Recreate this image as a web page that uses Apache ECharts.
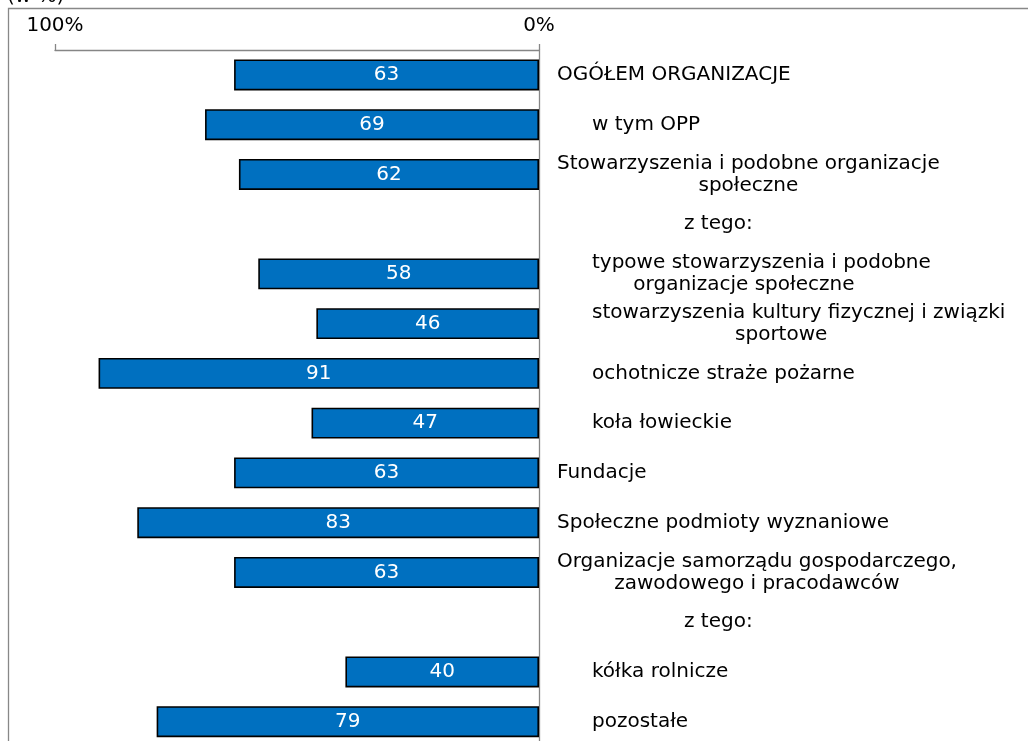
<!DOCTYPE html>
<html lang="pl">
<head>
<meta charset="utf-8">
<title>Organizacje – udział (w %)</title>
<script src="https://cdn.jsdelivr.net/npm/echarts@6/dist/echarts.min.js"></script>
<style>
  html, body { margin: 0; padding: 0; background: #ffffff; overflow: hidden; }
  #chart { width: 1028px; height: 741px; }
</style>
</head>
<body>
<div id="chart"></div>
<script>
// Category rows, top to bottom ("z tego:" rows carry no bar)
const categories = [
  'OGÓŁEM ORGANIZACJE',
  'w tym OPP',
  'Stowarzyszenia i podobne organizacje\nspołeczne',
  'z tego:',
  'typowe stowarzyszenia i podobne\norganizacje społeczne',
  'stowarzyszenia kultury fizycznej i związki\nsportowe',
  'ochotnicze straże pożarne',
  'koła łowieckie',
  'Fundacje',
  'Społeczne podmioty wyznaniowe',
  'Organizacje samorządu gospodarczego,\nzawodowego i pracodawców',
  'z tego:',
  'kółka rolnicze',
  'pozostałe'
];

// Share in percent for each row
const values = [63, 69, 62, null, 58, 46, 91, 47, 63, 83, 63, null, 40, 79];

// Value axis range and tick step
const axisMin = 0;
const axisMax = 100;
const axisStep = 100;

const unitLabel = '(w %)';

// Row nesting: 0 = main group, 1 = subgroup, 2 = "z tego:" heading
const rowLevel = [0, 1, 0, 2, 1, 1, 1, 1, 0, 0, 0, 2, 1, 1];

const FONT = 'DejaVu Sans';
const FONT_SIZE = 20;
const indentPx = { 0: 0, 1: 35, 2: 127 };

function labelStyle(pad) {
  return { fontFamily: FONT, fontSize: FONT_SIZE, lineHeight: 22, color: '#000000', align: 'left', padding: [0, 0, 0, pad] };
}

const rich = {
  l0: labelStyle(indentPx[0]),
  l1: labelStyle(indentPx[1]),
  l2: labelStyle(indentPx[2]),
  c: { fontFamily: FONT, fontSize: FONT_SIZE, lineHeight: 22, color: '#000000', align: 'center' }
};

function formatCategory(_, idx) {
  const lines = categories[idx].split('\n');
  const first = '{l' + rowLevel[idx] + '|' + lines[0] + '}';
  const rest = lines.slice(1).map(t => '{c|' + t + '}');
  return [first].concat(rest).join('\n');
}

const chart = echarts.init(document.getElementById('chart'), null, { renderer: 'canvas' });

chart.setOption({
  animation: false,
  backgroundColor: '#ffffff',
  grid: {
    left: 55,
    right: 489,
    top: 50,
    height: 696.5,
    containLabel: false,
    outerBoundsMode: 'none'
  },
  xAxis: {
    type: 'value',
    position: 'top',
    inverse: true,
    min: axisMin,
    max: axisMax,
    interval: axisStep,
    splitLine: { show: false },
    axisLine: { show: true, lineStyle: { color: '#868686', width: 1.3 } },
    axisTick: { show: true, length: 6, lineStyle: { color: '#868686', width: 1.3 } },
    axisLabel: {
      formatter: '{value}%',
      margin: 14,
      color: '#000000',
      fontFamily: FONT,
      fontSize: FONT_SIZE
    }
  },
  yAxis: {
    type: 'category',
    position: 'right',
    inverse: true,
    data: categories,
    axisLine: { show: true, lineStyle: { color: '#868686', width: 1.3 } },
    axisTick: { show: false },
    axisLabel: {
      interval: 0,
      margin: 18,
      formatter: formatCategory,
      rich: rich,
      color: '#000000',
      fontFamily: FONT,
      fontSize: FONT_SIZE
    }
  },
  graphic: [
    {
      type: 'rect',
      shape: { x: 8.5, y: 8.5, width: 1200, height: 900 },
      style: { fill: 'none', stroke: '#888888', lineWidth: 1.3 },
      silent: true,
      z: -1
    },
    {
      type: 'text',
      x: 7,
      y: -3,
      style: { text: unitLabel, fontFamily: FONT, fontSize: FONT_SIZE, fill: '#000000', verticalAlign: 'middle', align: 'left' },
      silent: true
    }
  ],
  series: [
    {
      type: 'bar',
      data: values,
      barWidth: 31,
      itemStyle: { color: '#0070C0', borderColor: '#000000', borderWidth: 1.6 },
      label: {
        show: true,
        position: 'inside',
        color: '#ffffff',
        fontFamily: FONT,
        fontSize: FONT_SIZE
      }
    }
  ]
});
</script>
</body>
</html>
